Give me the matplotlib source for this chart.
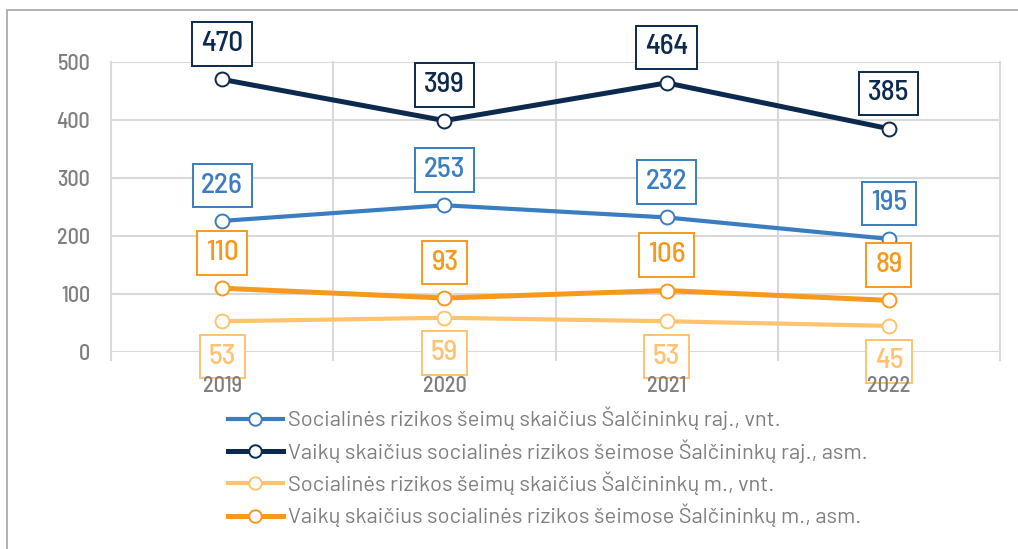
import matplotlib
matplotlib.use("Agg")
import matplotlib.pyplot as plt
from matplotlib.lines import Line2D
from matplotlib.patches import Rectangle

years = ["2019", "2020", "2021", "2022"]
seimos_raj = [226, 253, 232, 195]
vaikai_raj = [470, 399, 464, 385]
seimos_m = [53, 59, 53, 45]
vaikai_m = [110, 93, 106, 89]
series_labels = [
    "Socialinės rizikos šeimų skaičius Šalčininkų raj., vnt.",
    "Vaikų skaičius socialinės rizikos šeimose Šalčininkų raj., asm.",
    "Socialinės rizikos šeimų skaičius Šalčininkų m., vnt.",
    "Vaikų skaičius socialinės rizikos šeimose Šalčininkų m., asm.",
]
yticks = [0, 100, 200, 300, 400, 500]

# DIN-like condensed face, DejaVu as fallback for any missing glyph
plt.rcParams["font.family"] = ["Barlow Semi Condensed", "DejaVu Sans"]

GRAY = "#7f7f7f"
GRID = "#d9d9d9"
BLUE = "#3a7dc0"
NAVY = "#0c2a4d"
LIGHT = "#fec36f"
ORANGE = "#f7991c"

fig = plt.figure(figsize=(10.18, 5.49), dpi=100)
ax = fig.add_axes([111 / 1018, 1 - 352 / 549, 889 / 1018, 290 / 549])

xs = list(range(len(years)))
series = [
    (seimos_raj, BLUE, 3.0, 1),
    (vaikai_raj, NAVY, 3.6, 1),
    (seimos_m, LIGHT, 3.0, -1),
    (vaikai_m, ORANGE, 3.6, 1),
]
for vals, col, lw, side in series:
    ax.plot(xs, vals, color=col, lw=lw, marker="o", ms=10, mfc="white",
            mec=col, mew=1.4, zorder=3, solid_capstyle="round")
    for x, v in zip(xs, vals):
        ax.annotate(str(v), (x, v), xytext=(0, 25.5 * side), textcoords="offset points",
                    ha="center", va="center", fontsize=21, fontweight=500,
                    color=col, zorder=4,
                    bbox=dict(boxstyle="square,pad=0.3", fc="white", ec=col, lw=1.4))

ax.set_xlim(-0.5, 3.5)
ax.set_ylim(0, 500)
ax.set_yticks(yticks)
ax.set_xticks(xs)
ax.set_xticklabels(years)
ax.tick_params(axis="both", length=0, labelsize=16, labelcolor=GRAY)
ax.tick_params(axis="y", pad=15)
ax.tick_params(axis="x", pad=17)
for t in ax.get_xticklabels() + ax.get_yticklabels():
    t.set_fontweight(500)
ax.xaxis.set_zorder(5)  # year labels sit on top of the lower value boxes
for s in ax.spines.values():
    s.set_visible(False)
for y in yticks:
    ax.axhline(y, color=GRID, lw=1.5, zorder=1)
# category boundary lines extending slightly below the axis
for xb in [-0.5, 0.5, 1.5, 2.5, 3.5]:
    ax.plot([xb, xb], [-14, 500], color=GRID, lw=1.5, zorder=1, clip_on=False)

handles = [Line2D([], [], color=c, lw=lw, marker="o", ms=9, mfc="white", mec=c, mew=1.4)
           for _, c, lw, _ in series]
fig.legend(handles, series_labels, loc="upper left", bbox_to_anchor=(228 / 1018, 1 - 407 / 549),
           frameon=False, prop={"family": ["Barlow", "DejaVu Sans"], "size": 15.8},
           labelcolor=GRAY, handlelength=2.5, handletextpad=0.25,
           labelspacing=0.4, borderpad=0, borderaxespad=0)

fig.patches.append(Rectangle((7 / 1018, -0.1), 1.2, 1 - 10 / 549 + 0.1, transform=fig.transFigure,
                             fill=False, ec="#a6a6a6", lw=1.2))

fig.savefig("out.png", dpi=100)
